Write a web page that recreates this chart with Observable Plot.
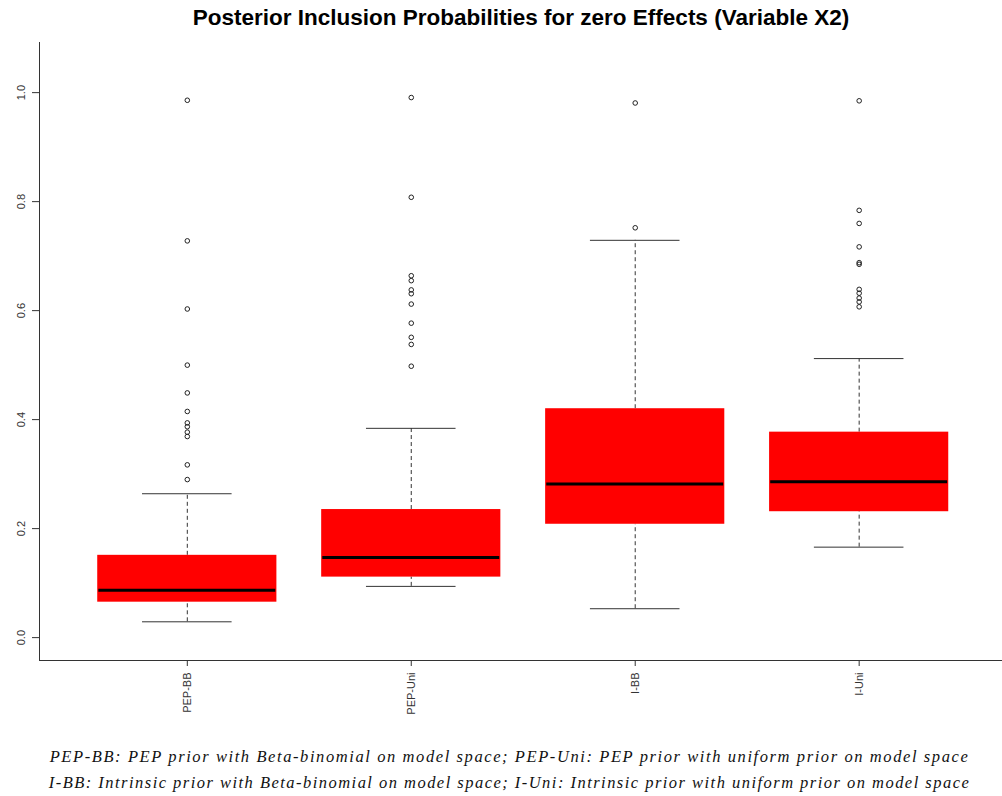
<!DOCTYPE html>
<html>
<head>
<meta charset="utf-8">
<script src="https://cdn.jsdelivr.net/npm/d3@7"></script>
<script src="https://cdn.jsdelivr.net/npm/@observablehq/plot@0.6"></script>
<style>
  html, body { margin: 0; padding: 0; background: #ffffff; }
  body { width: 1002px; height: 796px; overflow: hidden; }
  #title {
    height: 36px; line-height: 38px; position: relative; top: 5px;
    font: bold 22.5px "Liberation Sans", Arial, sans-serif;
    color: #000; text-align: center; padding-left: 40px; box-sizing: border-box;
    white-space: nowrap;
  }
  #chart svg { display: block; }
  #caption {
    padding-top: 8px; padding-left: 17px; box-sizing: border-box;
    font: italic 16.5px "Liberation Serif", "DejaVu Serif", serif;
    color: #111; text-align: center; line-height: 26px;
  }
  #caption div { white-space: nowrap; }
  #caption span { display: inline-block; }
</style>
</head>
<body>
<div id="title">Posterior Inclusion Probabilities for zero Effects (Variable X2)</div>
<div id="chart"></div>
<div id="caption">
  <div><span id="cap1">PEP-BB: PEP prior with Beta-binomial on model space; PEP-Uni: PEP prior with uniform prior on model space</span></div>
  <div><span id="cap2">I-BB: Intrinsic prior with Beta-binomial on model space; I-Uni: Intrinsic prior with uniform prior on model space</span></div>
</div>
<script>
// ---- data ----
const categories   = ["PEP-BB", "PEP-Uni", "I-BB", "I-Uni"];
const lowerWhisker = [0.029, 0.094, 0.053, 0.166];
const q1           = [0.065, 0.111, 0.208, 0.231];
const median       = [0.087, 0.147, 0.282, 0.286];
const q3           = [0.151, 0.235, 0.420, 0.377];
const upperWhisker = [0.264, 0.384, 0.729, 0.512];

const outliersPEPBB  = [0.986, 0.728, 0.603, 0.500, 0.449, 0.415, 0.394, 0.387, 0.377, 0.369, 0.317, 0.290];
const outliersPEPUni = [0.991, 0.808, 0.664, 0.655, 0.638, 0.631, 0.612, 0.577, 0.551, 0.538, 0.498];
const outliersIBB    = [0.981, 0.752];
const outliersIUni   = [0.985, 0.784, 0.760, 0.717, 0.688, 0.685, 0.639, 0.632, 0.623, 0.616, 0.607];

const yTicks  = [0, 0.2, 0.4, 0.6, 0.8, 1.0];
const yDomain = [-0.042, 1.092];   // ylim 0..1.05 with R's 4% expansion
const xDomain = [0.34, 4.64];

// ---- build tables ----
const boxes = categories.map((c, i) => ({
  cat: c, pos: i + 1,
  lo: lowerWhisker[i], q1: q1[i], med: median[i], q3: q3[i], hi: upperWhisker[i]
}));
const outliers = [outliersPEPBB, outliersPEPUni, outliersIBB, outliersIUni]
  .flatMap((arr, i) => arr.map(v => ({ pos: i + 1, v })));

const lineColor = "#333";
const chart = Plot.plot({
  width: 1002, height: 700,
  marginTop: 6, marginBottom: 76, marginLeft: 39, marginRight: 0,
  x: { type: "linear", domain: xDomain },
  y: { domain: yDomain },
  style: { fontFamily: "'Liberation Sans', Arial, sans-serif", fontSize: "11px", color: "#333", background: "#ffffff" },
  marks: [
    // whiskers
    Plot.ruleX(boxes, { x: "pos", y1: "q3", y2: "hi", stroke: lineColor, strokeDasharray: "4,3" }),
    Plot.ruleX(boxes, { x: "pos", y1: "lo", y2: "q1", stroke: lineColor, strokeDasharray: "4,3" }),
    Plot.ruleY(boxes, { y: "hi", x1: d => d.pos - 0.2, x2: d => d.pos + 0.2, stroke: lineColor }),
    Plot.ruleY(boxes, { y: "lo", x1: d => d.pos - 0.2, x2: d => d.pos + 0.2, stroke: lineColor }),
    // boxes
    Plot.rect(boxes, { x1: d => d.pos - 0.4, x2: d => d.pos + 0.4, y1: "q1", y2: "q3", fill: "#ff0000" }),
    // medians
    Plot.ruleY(boxes, { y: "med", x1: d => d.pos - 0.395, x2: d => d.pos + 0.395, stroke: "#000", strokeWidth: 3 }),
    // outliers
    Plot.dot(outliers, { x: "pos", y: "v", r: 2.3, stroke: "#222", fill: "none", strokeWidth: 1 }),
    // L-shaped frame
    Plot.ruleX([xDomain[0]], { stroke: lineColor }),
    Plot.ruleY([yDomain[0]], { stroke: lineColor }),
    // axes
    Plot.axisY({ ticks: yTicks, tickSize: 7, tickPadding: 8, tickRotate: -90, tickFormat: d3.format(".1f"), label: null, stroke: lineColor }),
    Plot.axisX({ ticks: [1, 2, 3, 4], tickSize: 6, tickPadding: 6, tickRotate: -90, tickFormat: i => categories[i - 1], label: null, stroke: lineColor })
  ]
});
document.getElementById("chart").appendChild(chart);

// fit caption line widths to the reference's (LaTeX-typeset) width
function fit(id, target) {
  const el = document.getElementById(id);
  const w = el.getBoundingClientRect().width;
  const n = el.textContent.length - 1;
  el.style.letterSpacing = ((target - w) / n) + "px";
}
fit("cap1", 918);
fit("cap2", 920);
</script>
</body>
</html>
